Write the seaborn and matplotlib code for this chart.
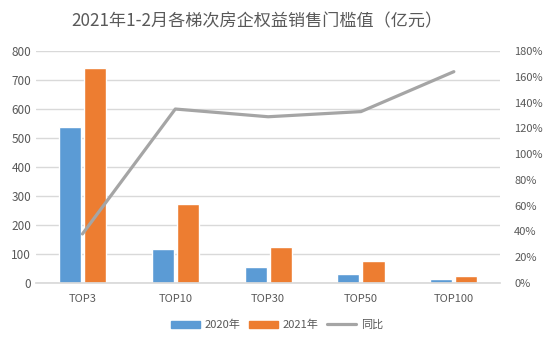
import matplotlib
matplotlib.use("Agg")
import matplotlib.pyplot as plt
import seaborn as sns
import pandas as pd
from matplotlib.ticker import FuncFormatter, MultipleLocator
from matplotlib.lines import Line2D
from matplotlib.patches import Patch

categories = ["TOP3", "TOP10", "TOP30", "TOP50", "TOP100"]
values_2020 = [538, 117, 55, 31, 12]
values_2021 = [741, 272, 124, 76, 25]
yoy_pct = [38, 135, 129, 133, 164]
series_names = ["2020年", "2021年"]
line_name = "同比"
title = "2021年1-2月各梯次房企权益销售门槛值（亿元）"

sns.set_theme(style="white")
plt.rcParams['font.family'] = ['Noto Sans CJK SC', 'DejaVu Sans']

df = pd.DataFrame({
    "cat": categories * 2,
    "val": values_2020 + values_2021,
    "series": [series_names[0]] * 5 + [series_names[1]] * 5,
})

blue = "#5B9BD5"
orange = "#ED7D31"
gray = "#A5A5A5"
text_c = "#595959"
grid_c = "#D9D9D9"

fig = plt.figure(figsize=(5.54, 3.45), dpi=100)
ax = fig.add_axes([0.065, 0.18, 0.838, 0.672])

sns.barplot(data=df, x="cat", y="val", hue="series", order=categories,
            hue_order=series_names, palette=[blue, orange], width=0.54,
            gap=0.12, ax=ax, legend=False, saturation=1)
ax.set_ylim(0, 800)
ax.set_xlim(-0.5, 4.5)
ax.yaxis.set_major_locator(MultipleLocator(100))
ax.grid(axis="y", color=grid_c, linewidth=1)
ax.set_axisbelow(True)
for s in ["left", "right", "top"]:
    ax.spines[s].set_visible(False)
ax.spines["bottom"].set_color(grid_c)
ax.set_xlabel("")
ax.set_ylabel("")
ax.tick_params(axis="both", length=0, colors=text_c, labelsize=8.5)
ax.tick_params(axis="x", pad=8, labelsize=8)

ax2 = ax.twinx()
sns.lineplot(x=list(range(5)), y=yoy_pct, ax=ax2, color=gray, linewidth=2.3)
ax2.set_ylim(0, 180)
ax2.yaxis.set_major_locator(MultipleLocator(20))
ax2.yaxis.set_major_formatter(FuncFormatter(lambda v, p: f"{int(v)}%"))
for s in ["left", "right", "top", "bottom"]:
    ax2.spines[s].set_visible(False)
ax2.tick_params(axis="y", length=0, colors=text_c, labelsize=8, pad=10)
ax2.set_ylabel("")
ax2.grid(False)

fig.suptitle(title, x=0.463, y=0.965, fontsize=12.3, color=text_c)

handles = [Patch(color=blue), Patch(color=orange), Line2D([], [], color=gray, linewidth=2.3)]
fig.legend(handles, series_names + [line_name], loc="center", bbox_to_anchor=(0.5, 0.058),
           ncol=3, frameon=False, fontsize=8, labelcolor=text_c,
           handlelength=2.6, handleheight=0.6, columnspacing=0.8, handletextpad=0.4)

fig.savefig("out.png", dpi=100, facecolor="white")
